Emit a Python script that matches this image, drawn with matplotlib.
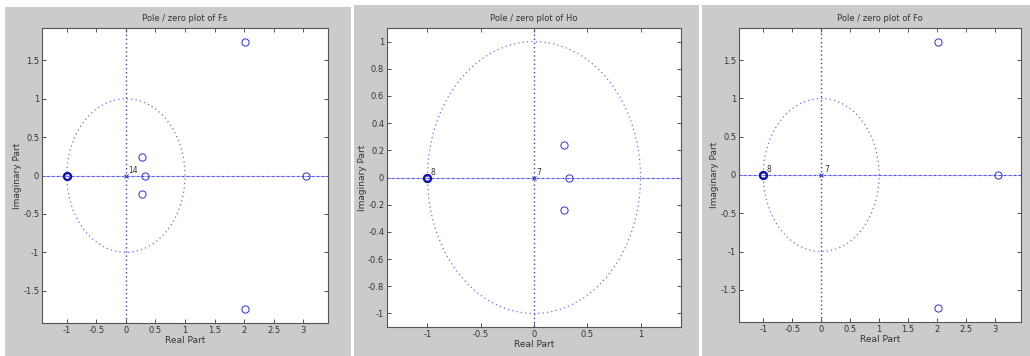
import numpy as np
import matplotlib
matplotlib.use("Agg")
import matplotlib.pyplot as plt
from matplotlib.patches import Rectangle

# zeros / poles
titles = ["Pole / zero plot of Fs", "Pole / zero plot of Ho", "Pole / zero plot of Fo"]
zeros_re = [[2.02, 2.02, 3.05, 0.28, 0.28, 0.33, -1.0],
            [0.28, 0.28, 0.33, -1.0],
            [2.02, 2.02, 3.05, -1.0]]
zeros_im = [[1.74, -1.74, 0.0, 0.24, -0.24, 0.0, 0.0],
            [0.24, -0.24, 0.0, 0.0],
            [1.74, -1.74, 0.0, 0.0]]
poles_re = [[0.0], [0.0], [0.0]]
poles_im = [[0.0], [0.0], [0.0]]
mult_labels = [[("14", 0.0, 0.0)],
               [("8", -1.0, 0.0), ("7", 0.0, 0.0)],
               [("8", -1.0, 0.0), ("7", 0.0, 0.0)]]
xlims = [(-1.42, 3.42), (-1.38, 1.38), (-1.42, 3.45)]
ylims = [(-1.92, 1.92), (-1.1, 1.1), (-1.92, 1.92)]
xticks = [[-1, -0.5, 0, 0.5, 1, 1.5, 2, 2.5, 3],
          [-1, -0.5, 0, 0.5, 1],
          [-1, -0.5, 0, 0.5, 1, 1.5, 2, 2.5, 3]]
yticks = [[-1.5, -1, -0.5, 0, 0.5, 1, 1.5],
          [-1, -0.8, -0.6, -0.4, -0.2, 0, 0.2, 0.4, 0.6, 0.8, 1],
          [-1.5, -1, -0.5, 0, 0.5, 1, 1.5]]

# layout in pixels (x0, y_top, x1, y_bottom)
W, H = 1030, 356
grey_boxes = [(5, 7, 351, 356), (354, 5, 699, 356), (702, 5, 1030, 356)]
ax_boxes = [(42, 28, 328, 323), (387, 28, 681, 327), (739, 28, 1021, 322)]

blue = "#3030d0"


def fmt(v):
    return "%g" % v


fig = plt.figure(figsize=(W / 100, H / 100), dpi=100)
fig.patch.set_facecolor("white")

for gb in grey_boxes:
    fig.patches.append(Rectangle((gb[0] / W, 1 - gb[3] / H), (gb[2] - gb[0]) / W, (gb[3] - gb[1]) / H,
                                 transform=fig.transFigure, facecolor="#cbcbcb", edgecolor="none", zorder=-10))

th = np.linspace(0, 2 * np.pi, 200)
for i in range(3):
    b = ax_boxes[i]
    ax = fig.add_axes([b[0] / W, 1 - b[3] / H, (b[2] - b[0]) / W, (b[3] - b[1]) / H])
    ax.set_zorder(1)
    ax.set_facecolor("white")
    ax.plot(np.cos(th), np.sin(th), ls=(0, (1, 2.5)), color="#7070e0", lw=0.9)
    ax.axhline(0, color="#9090ff", lw=0.6)
    ax.axhline(0, color=blue, ls=(0, (1, 3)), lw=0.9)
    ax.axvline(0, color="#4040b0", ls=(0, (1, 2)), lw=1.0)
    ax.plot(zeros_re[i], zeros_im[i], "o", mfc="none", mec=blue, ms=5.2, mew=0.7)
    # multiple zero at -1 drawn heavier
    ax.plot([-1.0], [0.0], "o", mfc="none", mec="#1010b0", ms=5, mew=1.7)
    ax.plot(poles_re[i], poles_im[i], "x", color=blue, ms=3.5, mew=0.7)
    for txt, xr, yi in mult_labels[i]:
        ax.annotate(txt, (xr, yi), xytext=(2, 2), textcoords="offset points",
                    fontsize=5.5, color="#333333")
    ax.set_xlim(*xlims[i])
    ax.set_ylim(*ylims[i])
    ax.set_xticks(xticks[i])
    ax.set_xticklabels([fmt(v) for v in xticks[i]])
    ax.set_yticks(yticks[i])
    ax.set_yticklabels([fmt(v) for v in yticks[i]])
    ax.tick_params(direction="in", length=3, width=0.6, labelsize=6, colors="#333333",
                   top=True, right=True, pad=2)
    for sp in ax.spines.values():
        sp.set_linewidth(0.8)
        sp.set_color("#555555")
    ax.set_title(titles[i], fontsize=6, color="#333333", pad=5)
    ax.set_xlabel("Real Part", fontsize=6.5, color="#333333", labelpad=1)
    ax.set_ylabel("Imaginary Part", fontsize=6.5, color="#333333", labelpad=1)

fig.savefig("out.png", dpi=100)
